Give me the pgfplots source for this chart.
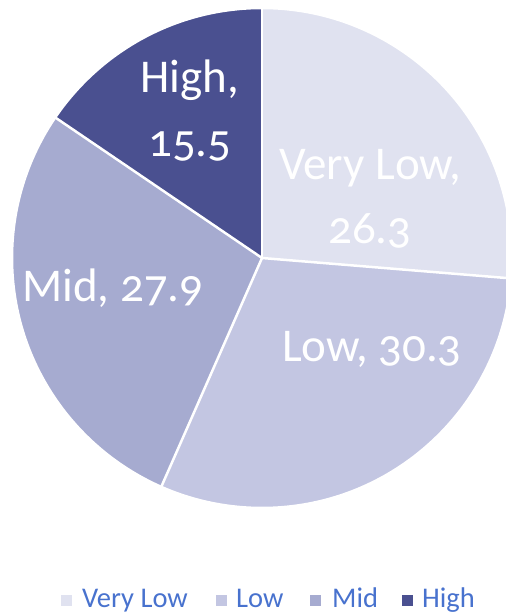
\documentclass[border=0pt]{standalone}
\usepackage{pgfplots}
\pgfplotsset{compat=1.18}
\usepackage{pgfplotstable}
\usepackage{fontspec}
\setmainfont[Numbers=OldStyle]{Carlito}
\definecolor{cVL}{RGB}{224,226,240}
\definecolor{cL}{RGB}{195,198,226}
\definecolor{cM}{RGB}{166,171,208}
\definecolor{cH}{RGB}{74,80,144}
\definecolor{legtext}{RGB}{72,114,206}
\pgfplotstableread{
label value
VeryLow 26.3
Low 30.3
Mid 27.9
High 15.5
}\piedata
\pgfplotstablegetelem{0}{value}\of\piedata \let\vA\pgfplotsretval
\pgfplotstablegetelem{1}{value}\of\piedata \let\vB\pgfplotsretval
\pgfplotstablegetelem{2}{value}\of\piedata \let\vC\pgfplotsretval
\pgfplotstablegetelem{3}{value}\of\piedata \let\vD\pgfplotsretval
\pgfmathsetmacro\aA{90}
\pgfmathsetmacro\aB{\aA-3.6*\vA}
\pgfmathsetmacro\aC{\aB-3.6*\vB}
\pgfmathsetmacro\aD{\aC-3.6*\vC}
\pgfmathsetmacro\aE{\aD-3.6*\vD}
\tikzset{lab/.style={text=white, font=\fontsize{47}{50}\selectfont, anchor=base, inner sep=0pt}}
\tikzset{leg/.style={text=legtext, font=\fontsize{28.5}{32}\selectfont, anchor=base west, inner sep=0pt}}
\begin{document}
\begin{tikzpicture}
\begin{axis}[
  scale only axis, width=506pt, height=616pt,
  xmin=-262, xmax=244, ymin=-358, ymax=258,
  hide axis, clip=true,
]
\path (axis cs:-262,-358) rectangle (axis cs:244,258);
\fill[cVL] (axis cs:0,0) -- ++(\aA:250pt) arc[start angle=\aA, end angle=\aB, radius=250pt] -- cycle;
\fill[cL]  (axis cs:0,0) -- ++(\aB:250pt) arc[start angle=\aB, end angle=\aC, radius=250pt] -- cycle;
\fill[cM]  (axis cs:0,0) -- ++(\aC:250pt) arc[start angle=\aC, end angle=\aD, radius=250pt] -- cycle;
\fill[cH]  (axis cs:0,0) -- ++(\aD:250pt) arc[start angle=\aD, end angle=\aE, radius=250pt] -- cycle;
\draw[white, line width=2.5pt] (axis cs:0,0) -- ++(\aA:250pt);
\draw[white, line width=2.5pt] (axis cs:0,0) -- ++(\aB:250pt);
\draw[white, line width=2.5pt] (axis cs:0,0) -- ++(\aC:250pt);
\draw[white, line width=2.5pt] (axis cs:0,0) -- ++(\aD:250pt);
\draw[white, line width=2.5pt] (axis cs:0,0) circle[radius=250pt];
% data labels
\node[lab] at (axis cs:-72,165) {High,};
\node[lab] at (axis cs:-72,101) {15.5};
\node[lab] at (axis cs:108,78) {Very Low,};
\node[lab] at (axis cs:108,14) {26.3};
\node[lab] at (axis cs:-149,-44) {Mid, 27.9};
\node[lab] at (axis cs:110,-104) {Low, 30.3};
% legend
\fill[cVL] (axis cs:-201,-348) rectangle (axis cs:-190,-337);
\fill[cL]  (axis cs:-46,-348) rectangle (axis cs:-35,-337);
\fill[cM]  (axis cs:48,-348) rectangle (axis cs:59,-337);
\fill[cH]  (axis cs:140,-348) rectangle (axis cs:151,-337);
\node[leg] at (axis cs:-180,-349) {Very Low};
\node[leg] at (axis cs:-26,-349) {Low};
\node[leg] at (axis cs:70,-349) {Mid};
\node[leg] at (axis cs:160,-349) {High};
\end{axis}
\end{tikzpicture}
\end{document}
